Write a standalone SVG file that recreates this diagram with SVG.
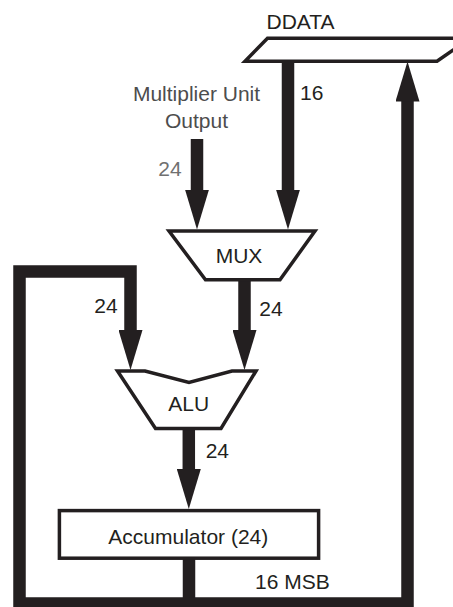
<svg xmlns="http://www.w3.org/2000/svg" width="453" height="607" viewBox="0 0 453 607">
<style>
  .t { font-family: "Liberation Sans", Arial, sans-serif; font-size: 21px; fill: #231f20; }
  .mid { text-anchor: middle; }
  .gray { fill: #4d4d4d; }
  .gray2 { fill: #707070; }
  .shape { fill: #ffffff; stroke: #231f20; stroke-width: 3.5; stroke-linejoin: miter; stroke-miterlimit: 10; }
  .bus { fill: none; stroke: #231f20; stroke-width: 12.5; stroke-linejoin: miter; stroke-linecap: butt; }
</style>
<defs>
  <marker id="head" markerUnits="userSpaceOnUse" viewBox="0 0 40 24" markerWidth="40" markerHeight="24" refX="2" refY="12" orient="auto">
    <path d="M0,0 L40,12 L0,24 Z" fill="#231f20"/>
  </marker>
</defs>
<rect width="453" height="607" fill="#ffffff"/>

<g id="connectors">
  <line class="bus" x1="197" y1="139" x2="197" y2="191.5" marker-end="url(#head)"/>
  <line class="bus" x1="288" y1="62" x2="288" y2="191.5" marker-end="url(#head)"/>
  <line class="bus" x1="244.5" y1="281" x2="244.5" y2="332" marker-end="url(#head)"/>
  <line class="bus" x1="188.8" y1="430" x2="188.8" y2="471" marker-end="url(#head)"/>
  <path class="bus" d="M189,559 V603.5 H19.5 V271.5 H130.5 V332" marker-end="url(#head)"/>
  <path class="bus" d="M189,603.5 H407.5 V99.5" marker-end="url(#head)"/>
</g>

<g id="ddata">
  <polygon class="shape" points="267.5,38.3 470,38.3 437,61.3 245,61.3"/>
  <text class="t mid" x="300.5" y="29.3">DDATA</text>
</g>

<g id="multiplier-output">
  <text class="t mid gray" x="196.5" y="100.5">Multiplier Unit</text>
  <text class="t mid gray" x="196.5" y="128">Output</text>
</g>

<g id="mux">
  <polygon class="shape" points="169,231 315,231 280,279.8 205.5,279.8"/>
  <text class="t mid" x="239" y="263.3">MUX</text>
</g>

<g id="alu">
  <polygon class="shape" points="117.5,371 145,371 189,382.5 232,371 256,371 221,428.5 155.5,428.5"/>
  <text class="t mid" x="188.8" y="410.7">ALU</text>
</g>

<g id="accumulator">
  <rect class="shape" x="59.4" y="510.6" width="259.2" height="47.6"/>
  <text class="t mid" x="188.3" y="543.5">Accumulator (24)</text>
</g>

<g id="labels">
  <text class="t" x="300" y="100">16</text>
  <text class="t gray2" x="158.3" y="175.7">24</text>
  <text class="t" x="94.3" y="313">24</text>
  <text class="t" x="259.3" y="316">24</text>
  <text class="t" x="205.7" y="458.3">24</text>
  <text class="t" x="255" y="589.3">16 MSB</text>
</g>
</svg>
